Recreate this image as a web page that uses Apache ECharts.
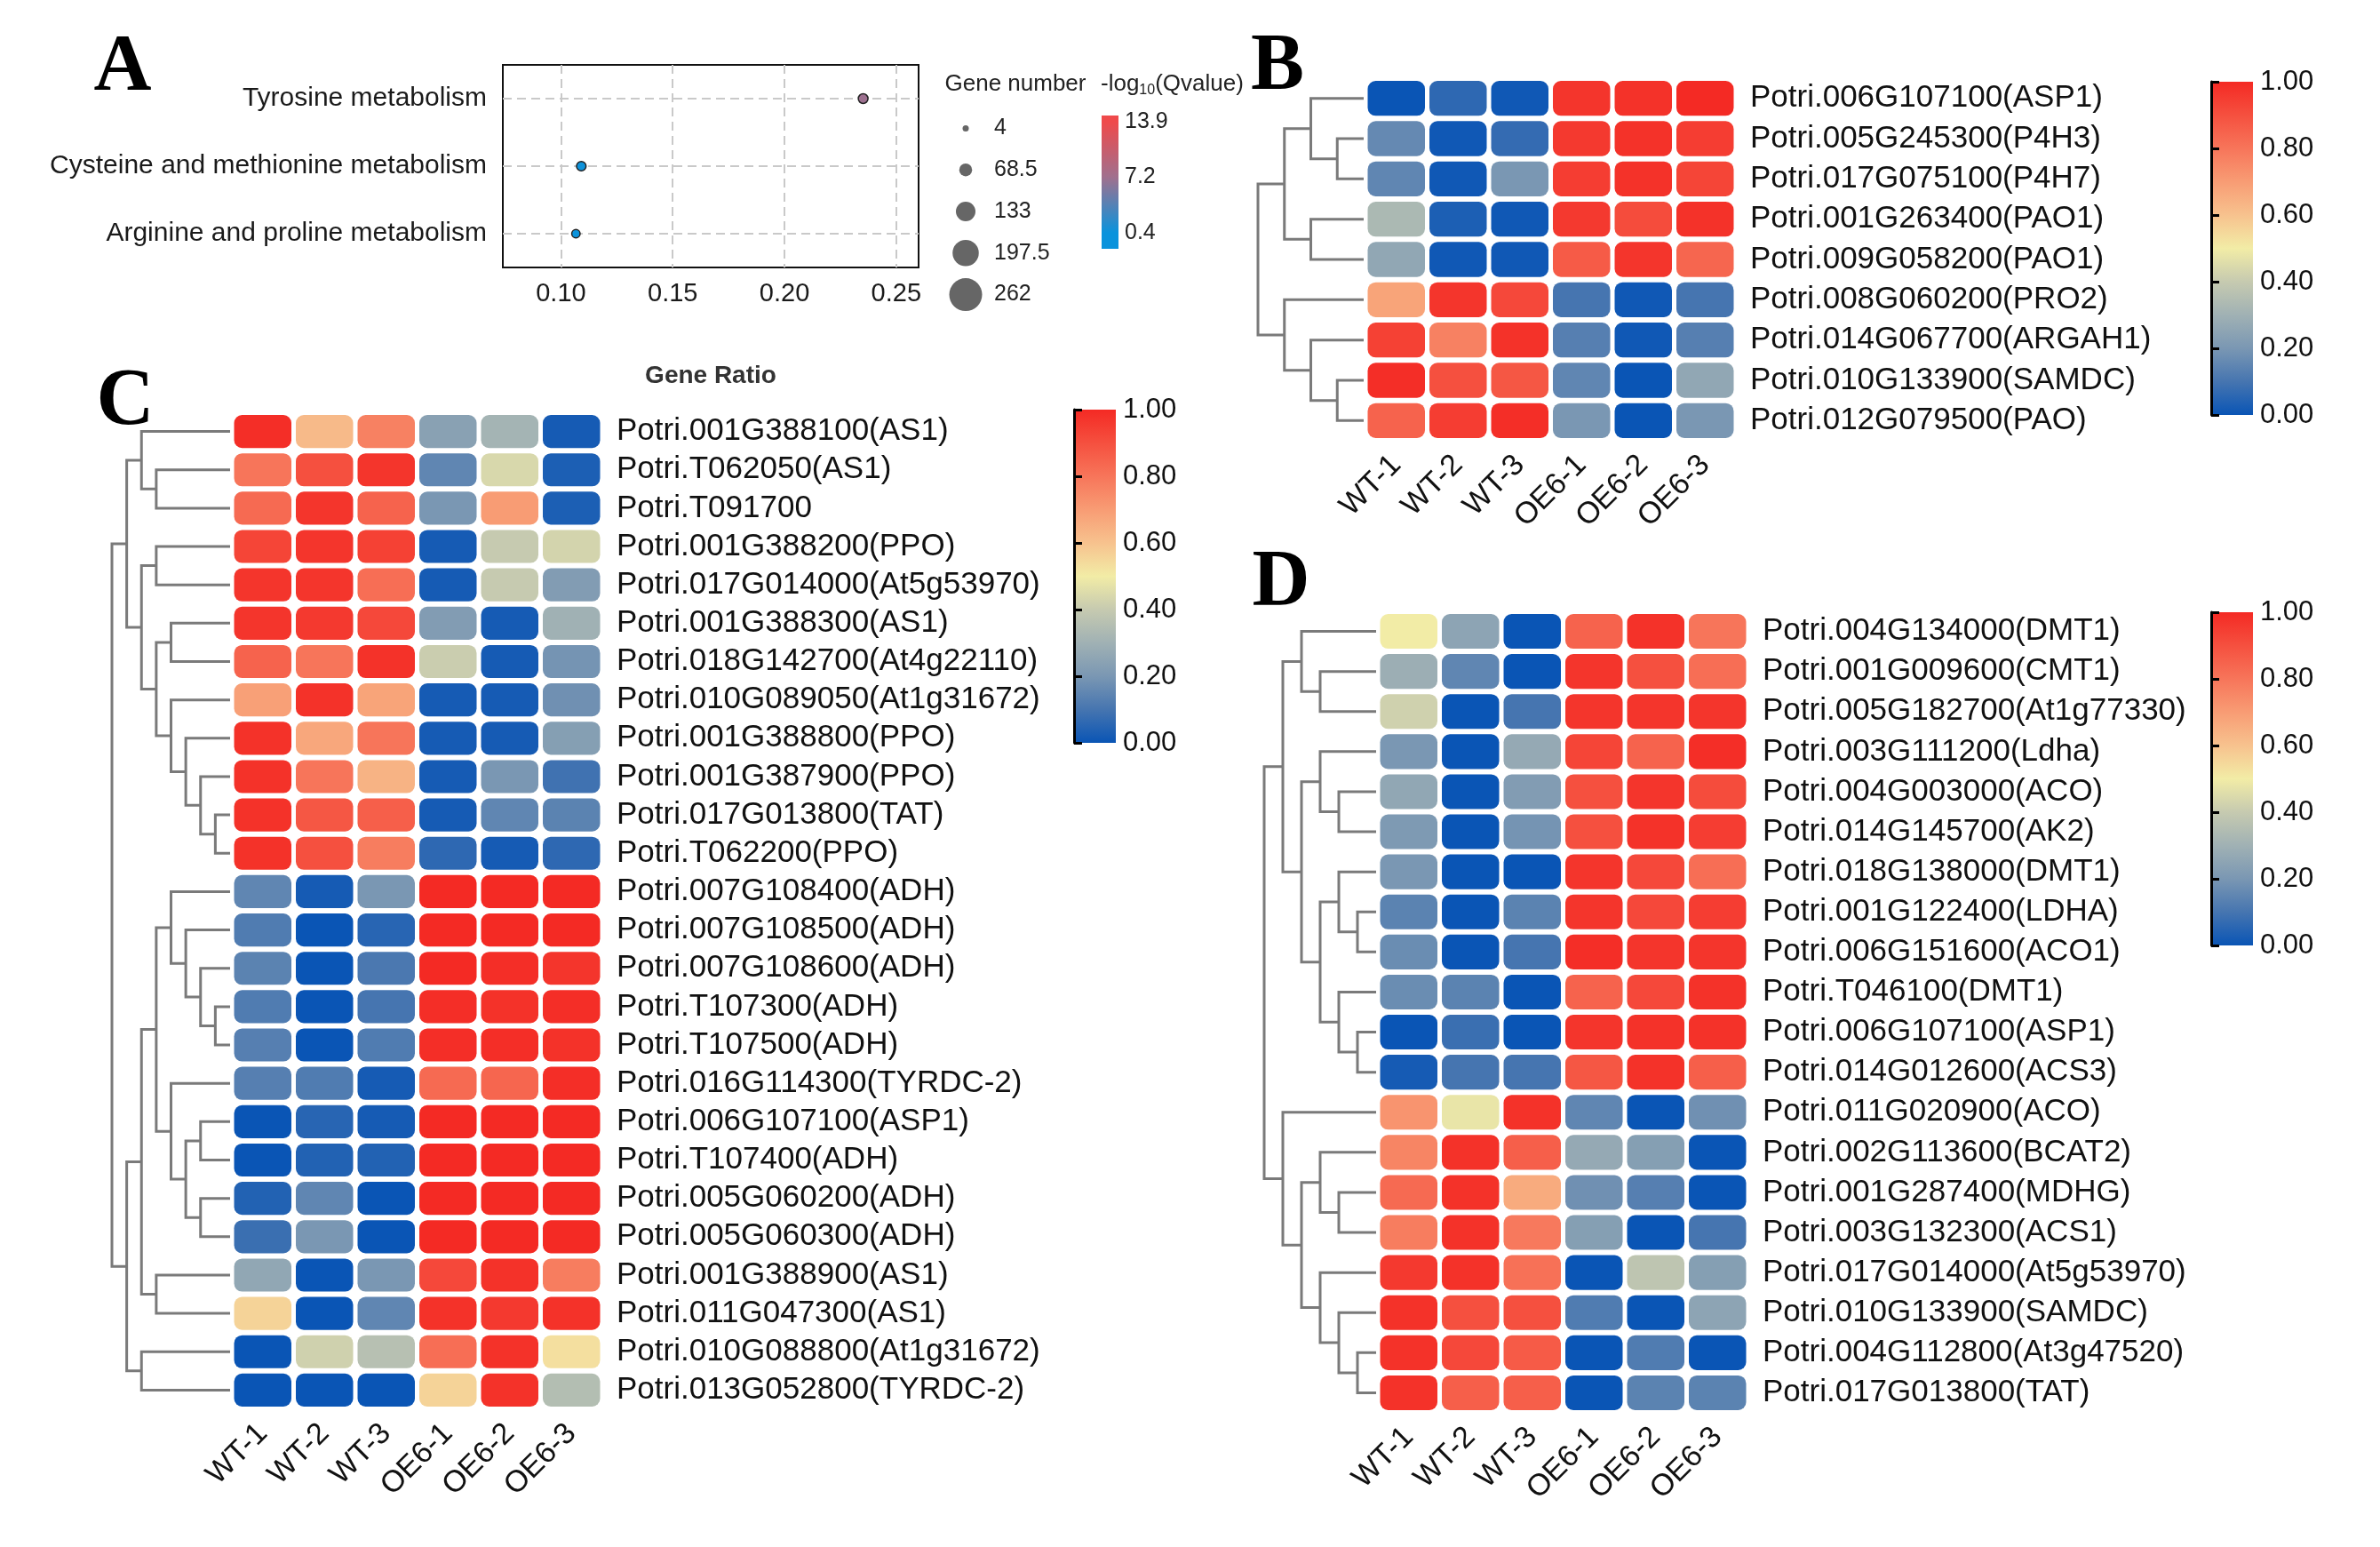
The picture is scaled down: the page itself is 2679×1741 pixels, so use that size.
<!DOCTYPE html>
<html>
<head>
<meta charset="utf-8">
<script src="https://cdn.jsdelivr.net/npm/echarts@6/dist/echarts.min.js"></script>
<style>
  html, body { margin: 0; background: #fff; }
  #chart { width: 2679px; height: 1741px; }
</style>
</head>
<body>
<div id="chart"></div>
<script>
// ---- panel A: KEGG enrichment bubbles ----
const pathways = ['Tyrosine metabolism', 'Cysteine and methionine metabolism', 'Arginine and proline metabolism']
const geneRatio = [0.2352, 0.1091, 0.1067]
const geneCount = [38, 36, 25]
const qScore = [7.0, 0.6, 0.4]
const ratioTicks = [0.10, 0.15, 0.20, 0.25]
const sizeBreaks = [4, 68.5, 133, 197.5, 262]
const qBreaks = [0.4, 7.2, 13.9]

// ---- heatmaps ----
const samples = ['WT-1', 'WT-2', 'WT-3', 'OE6-1', 'OE6-2', 'OE6-3']

const genesB = ['Potri.006G107100(ASP1)', 'Potri.005G245300(P4H3)', 'Potri.017G075100(P4H7)', 'Potri.001G263400(PAO1)',
  'Potri.009G058200(PAO1)', 'Potri.008G060200(PRO2)', 'Potri.014G067700(ARGAH1)', 'Potri.010G133900(SAMDC)', 'Potri.012G079500(PAO)']
const valuesB = [
  [0.00, 0.06, 0.01, 0.97, 0.98, 1.00],
  [0.16, 0.01, 0.07, 0.96, 0.98, 0.95],
  [0.15, 0.01, 0.20, 0.95, 0.98, 0.93],
  [0.33, 0.03, 0.01, 0.96, 0.91, 0.98],
  [0.26, 0.01, 0.01, 0.87, 0.97, 0.84],
  [0.68, 0.97, 0.92, 0.10, 0.01, 0.10],
  [0.94, 0.77, 0.98, 0.13, 0.01, 0.13],
  [0.99, 0.90, 0.88, 0.15, 0.00, 0.26],
  [0.85, 0.95, 0.99, 0.20, 0.00, 0.20],
]
// merges: [childA, childB, height]; leaves are 0..n-1, new clusters get n, n+1, ...
const treeB = [[1, 2, 1], [0, 9, 2], [3, 4, 2], [10, 11, 3], [7, 8, 1], [6, 13, 2], [5, 14, 3], [12, 15, 4]]

const genesC = ['Potri.001G388100(AS1)', 'Potri.T062050(AS1)', 'Potri.T091700', 'Potri.001G388200(PPO)',
  'Potri.017G014000(At5g53970)', 'Potri.001G388300(AS1)', 'Potri.018G142700(At4g22110)', 'Potri.010G089050(At1g31672)',
  'Potri.001G388800(PPO)', 'Potri.001G387900(PPO)', 'Potri.017G013800(TAT)', 'Potri.T062200(PPO)',
  'Potri.007G108400(ADH)', 'Potri.007G108500(ADH)', 'Potri.007G108600(ADH)', 'Potri.T107300(ADH)',
  'Potri.T107500(ADH)', 'Potri.016G114300(TYRDC-2)', 'Potri.006G107100(ASP1)', 'Potri.T107400(ADH)',
  'Potri.005G060200(ADH)', 'Potri.005G060300(ADH)', 'Potri.001G388900(AS1)', 'Potri.011G047300(AS1)',
  'Potri.010G088800(At1g31672)', 'Potri.013G052800(TYRDC-2)']
const valuesC = [
  [0.99, 0.62, 0.77, 0.24, 0.31, 0.02],
  [0.80, 0.90, 0.97, 0.15, 0.44, 0.03],
  [0.83, 0.97, 0.85, 0.20, 0.70, 0.03],
  [0.93, 0.97, 0.94, 0.02, 0.40, 0.43],
  [0.97, 0.97, 0.82, 0.02, 0.40, 0.22],
  [0.97, 0.96, 0.92, 0.22, 0.02, 0.30],
  [0.85, 0.80, 0.98, 0.41, 0.02, 0.19],
  [0.69, 0.98, 0.68, 0.02, 0.02, 0.18],
  [0.98, 0.67, 0.80, 0.02, 0.02, 0.23],
  [0.98, 0.80, 0.64, 0.02, 0.20, 0.09],
  [0.98, 0.88, 0.86, 0.02, 0.15, 0.14],
  [0.98, 0.90, 0.78, 0.06, 0.02, 0.06],
  [0.15, 0.02, 0.20, 1.00, 1.00, 1.00],
  [0.12, 0.00, 0.05, 1.00, 1.00, 1.00],
  [0.14, 0.00, 0.11, 1.00, 0.99, 0.97],
  [0.12, 0.00, 0.10, 0.99, 0.98, 0.99],
  [0.13, 0.00, 0.12, 0.99, 0.99, 0.98],
  [0.13, 0.12, 0.02, 0.83, 0.84, 0.99],
  [0.00, 0.05, 0.02, 1.00, 1.00, 1.00],
  [0.00, 0.04, 0.04, 1.00, 1.00, 1.00],
  [0.04, 0.15, 0.00, 1.00, 1.00, 1.00],
  [0.08, 0.20, 0.00, 1.00, 1.00, 1.00],
  [0.26, 0.00, 0.20, 0.92, 0.98, 0.78],
  [0.56, 0.00, 0.15, 0.98, 0.96, 0.98],
  [0.00, 0.42, 0.36, 0.82, 0.98, 0.53],
  [0.00, 0.00, 0.00, 0.56, 0.98, 0.35],
]
const treeC = [[1, 2, 5], [0, 26, 6], [3, 4, 5], [5, 6, 4], [10, 11, 1], [9, 30, 2], [8, 31, 3], [7, 32, 4],
  [29, 33, 5], [28, 34, 6], [27, 35, 7], [15, 16, 1], [14, 37, 2], [13, 38, 3], [12, 39, 4], [18, 19, 2],
  [20, 21, 2], [41, 42, 3], [17, 43, 4], [40, 44, 5], [22, 23, 5], [45, 46, 6], [24, 25, 6], [47, 48, 7], [36, 49, 8]]

const genesD = ['Potri.004G134000(DMT1)', 'Potri.001G009600(CMT1)', 'Potri.005G182700(At1g77330)', 'Potri.003G111200(Ldha)',
  'Potri.004G003000(ACO)', 'Potri.014G145700(AK2)', 'Potri.018G138000(DMT1)', 'Potri.001G122400(LDHA)',
  'Potri.006G151600(ACO1)', 'Potri.T046100(DMT1)', 'Potri.006G107100(ASP1)', 'Potri.014G012600(ACS3)',
  'Potri.011G020900(ACO)', 'Potri.002G113600(BCAT2)', 'Potri.001G287400(MDHG)', 'Potri.003G132300(ACS1)',
  'Potri.017G014000(At5g53970)', 'Potri.010G133900(SAMDC)', 'Potri.004G112800(At3g47520)', 'Potri.017G013800(TAT)']
const valuesD = [
  [0.50, 0.25, 0.00, 0.85, 0.98, 0.80],
  [0.29, 0.15, 0.00, 0.97, 0.90, 0.82],
  [0.42, 0.00, 0.10, 0.97, 0.97, 0.97],
  [0.20, 0.00, 0.27, 0.93, 0.85, 0.99],
  [0.26, 0.00, 0.22, 0.90, 0.97, 0.91],
  [0.21, 0.00, 0.19, 0.90, 0.98, 0.95],
  [0.20, 0.00, 0.00, 0.97, 0.92, 0.82],
  [0.14, 0.00, 0.14, 0.97, 0.92, 0.95],
  [0.17, 0.00, 0.10, 0.99, 0.97, 0.97],
  [0.17, 0.14, 0.00, 0.85, 0.92, 0.98],
  [0.00, 0.08, 0.00, 0.97, 0.98, 0.98],
  [0.02, 0.10, 0.10, 0.88, 0.98, 0.86],
  [0.72, 0.48, 0.98, 0.15, 0.00, 0.18],
  [0.76, 0.98, 0.86, 0.27, 0.23, 0.00],
  [0.83, 0.98, 0.66, 0.18, 0.13, 0.00],
  [0.78, 0.98, 0.79, 0.23, 0.00, 0.10],
  [0.96, 0.98, 0.81, 0.00, 0.38, 0.23],
  [0.98, 0.90, 0.90, 0.12, 0.00, 0.25],
  [0.98, 0.92, 0.87, 0.00, 0.12, 0.00],
  [0.98, 0.86, 0.86, 0.00, 0.14, 0.14],
]
const treeD = [[1, 2, 3], [0, 20, 4], [4, 5, 2], [3, 22, 3], [7, 8, 1], [6, 24, 2], [10, 11, 1], [9, 26, 2],
  [25, 27, 3], [23, 28, 4], [21, 29, 5], [14, 15, 2], [13, 31, 3], [18, 19, 1], [17, 33, 2], [16, 34, 3],
  [32, 35, 4], [12, 36, 5], [30, 37, 6]]

const heatPalette = ['#0a55b5', '#4675b0', '#7a97b3', '#a0b1b4', '#c6cab0', '#f2eca6',
  '#f7c28e', '#f89c74', '#f7755a', '#f5503f', '#f42a24']
const qPalette = ['#0a93dc', '#a0708e', '#ef4a4b']

const FONT = 'Liberation Sans'
const chart = echarts.init(document.getElementById('chart'))

function sizeFor(n) {
  return 7 + (n - 4) * 30 / 258
}

// turn merge list into bracket segments [hA, yA, h, yB, hB]
function treeSegments(n, merges) {
  const nodes = []
  for (let i = 0; i < n; i++) nodes.push({ y: i, h: 0 })
  return merges.map(([a, b, h]) => {
    const A = nodes[a]
    const B = nodes[b]
    nodes.push({ y: (A.y + B.y) / 2, h })
    return [A.h, A.y, h, B.y, B.h]
  })
}

function renderBranch(params, api) {
  const p1 = api.coord([api.value(0), api.value(1)])
  const p2 = api.coord([api.value(2), api.value(1)])
  const p3 = api.coord([api.value(2), api.value(3)])
  const p4 = api.coord([api.value(4), api.value(3)])
  return {
    type: 'polyline',
    shape: { points: [p1, p2, p3, p4] },
    style: { stroke: '#7a7a7a', lineWidth: 3, fill: null },
  }
}

function renderCell(params, api) {
  const c = api.coord([api.value(0), api.value(1)])
  const s = api.size([1, 1])
  const w = s[0] - 5
  const h = s[1] - 6
  return {
    type: 'rect',
    shape: { x: c[0] - w / 2, y: c[1] - h / 2, width: w, height: h, r: 9 },
    style: { fill: api.visual('color') },
  }
}

function cells(values) {
  const out = []
  values.forEach((row, r) => row.forEach((v, c) => out.push([c, r, v])))
  return out
}

const heatGradient = new echarts.graphic.LinearGradient(0, 1, 0, 0,
  heatPalette.map((c, i) => ({ offset: i / (heatPalette.length - 1), color: c })))
const qMin = -1.54
const qMax = 14.66
const qOff = v => (v - qMin) / (qMax - qMin)
const qGradient = new echarts.graphic.LinearGradient(0, 1, 0, 0, [
  { offset: 0, color: qPalette[0] },
  { offset: qOff(qBreaks[0]), color: qPalette[0] },
  { offset: qOff((qBreaks[0] + qBreaks[2]) / 2), color: qPalette[1] },
  { offset: qOff(qBreaks[2]), color: qPalette[2] },
  { offset: 1, color: qPalette[2] },
])

const grids = [
  { left: 566, top: 73, width: 468, height: 228, show: true, borderColor: '#111', borderWidth: 2 },
  { left: 1077, top: 121, width: 20, height: 234 },
  { left: 1240, top: 130, width: 19, height: 150, show: true, borderWidth: 0, backgroundColor: qGradient },
]
const xAxes = [
  {
    gridIndex: 0, type: 'value', min: 0.074, max: 0.26,
    axisLine: { show: false }, axisTick: { show: false }, splitLine: { show: false },
    axisLabel: { customValues: ratioTicks, formatter: v => v.toFixed(2), fontSize: 29, margin: 15, color: '#1a1a1a', fontFamily: FONT },
    name: 'Gene Ratio', nameLocation: 'middle', nameGap: 108,
    nameTextStyle: { fontWeight: 'bold', fontSize: 28, color: '#333', fontFamily: FONT },
  },
  { gridIndex: 1, type: 'value', min: -1, max: 1, show: false },
  { gridIndex: 2, type: 'value', min: 0, max: 1, show: false },
]
const yAxes = [
  {
    gridIndex: 0, type: 'category', data: pathways, inverse: true,
    axisLine: { show: false }, axisTick: { show: false },
    axisLabel: { fontSize: 30, margin: 18, color: '#1a1a1a', fontFamily: FONT },
  },
  {
    gridIndex: 1, type: 'category', data: sizeBreaks.map(String), inverse: true, position: 'right',
    axisLine: { show: false }, axisTick: { show: false },
    axisLabel: { fontSize: 25, margin: 22, color: '#222', fontFamily: FONT, padding: [0, 0, 16, 0] },
  },
  {
    gridIndex: 2, type: 'value', min: qMin, max: qMax, position: 'right',
    axisLine: { show: false }, splitLine: { show: false },
    axisTick: { show: true, inside: true, length: 4, customValues: qBreaks, lineStyle: { color: '#fff', width: 1 } },
    axisLabel: { customValues: qBreaks, formatter: v => String(v), fontSize: 25, margin: 7, color: '#222', fontFamily: FONT },
  },
]
const series = [
  {
    type: 'scatter', xAxisIndex: 0, yAxisIndex: 0, z: 10,
    data: pathways.map((p, i) => [geneRatio[i], i, geneCount[i], qScore[i]]),
    symbolSize: d => sizeFor(d[2]),
    itemStyle: { borderColor: '#222', borderWidth: 1.5, opacity: 1 },
    markLine: {
      silent: true, symbol: 'none', label: { show: false },
      lineStyle: { type: [10, 6], color: '#c9c9c9', width: 2 },
      data: ratioTicks.map(v => ({ xAxis: v })).concat(pathways.map((p, i) => ({ yAxis: i }))),
    },
  },
  {
    type: 'scatter', xAxisIndex: 1, yAxisIndex: 1,
    data: sizeBreaks.map((v, i) => [0, i, v]),
    symbolSize: d => sizeFor(d[2]),
    itemStyle: { color: '#666', opacity: 1 },
  },
]

const panels = [
  { genes: genesB, values: valuesB, tree: treeB, top: 88, height: 408, treeLeft: 1416, heatLeft: 1537, barLeft: 2489, barTop: 92 },
  { genes: genesC, values: valuesC, tree: treeC, top: 464, height: 1122, treeLeft: 126, heatLeft: 261, barLeft: 1209, barTop: 461 },
  { genes: genesD, values: valuesD, tree: treeD, top: 688, height: 902, treeLeft: 1423, heatLeft: 1551, barLeft: 2489, barTop: 689 },
]
const heatSeries = []

panels.forEach(p => {
  const n = p.genes.length
  const topH = p.tree[p.tree.length - 1][2]
  const g = grids.length
  // dendrogram
  grids.push({ left: p.treeLeft, top: p.top, width: p.heatLeft - 2 - p.treeLeft, height: p.height })
  xAxes.push({ gridIndex: g, type: 'value', min: 0, max: topH, inverse: true, show: false })
  yAxes.push({ gridIndex: g, type: 'value', min: -0.5, max: n - 0.5, inverse: true, show: false })
  series.push({
    type: 'custom', xAxisIndex: g, yAxisIndex: g, renderItem: renderBranch,
    encode: { x: [0, 2, 4], y: [1, 3] }, data: treeSegments(n, p.tree), silent: true,
  })
  // heat cells
  grids.push({ left: p.heatLeft, top: p.top, width: 417, height: p.height })
  xAxes.push({
    gridIndex: g + 1, type: 'category', data: samples,
    axisLine: { show: false }, axisTick: { show: false },
    axisLabel: { rotate: 45, interval: 0, fontSize: 34, margin: 22, color: '#111', fontFamily: FONT },
  })
  yAxes.push({
    gridIndex: g + 1, type: 'category', data: p.genes, inverse: true, position: 'right',
    axisLine: { show: false }, axisTick: { show: false },
    axisLabel: { interval: 0, fontSize: 35, margin: 16, color: '#111', fontFamily: FONT },
  })
  heatSeries.push(series.length)
  series.push({
    type: 'custom', xAxisIndex: g + 1, yAxisIndex: g + 1, renderItem: renderCell,
    encode: { x: 0, y: 1 }, data: cells(p.values),
  })
  // colour scale
  grids.push({ left: p.barLeft, top: p.barTop, width: 47, height: 375, show: true, borderWidth: 0, backgroundColor: heatGradient })
  xAxes.push({ gridIndex: g + 2, type: 'value', min: 0, max: 1, show: false })
  yAxes.push({
    gridIndex: g + 2, type: 'value', min: 0, max: 1, interval: 0.2, position: 'right',
    axisLine: { show: true, lineStyle: { color: '#000', width: 3 } },
    axisTick: { show: true, length: 9, lineStyle: { color: '#000', width: 3 } },
    splitLine: { show: false },
    axisLabel: { formatter: v => v.toFixed(2), fontSize: 31, margin: 8, color: '#111', fontFamily: FONT },
  })
})

const letter = (t, x, y) => ({
  type: 'text', x, y,
  style: { text: t, fontFamily: 'Liberation Serif', fontWeight: 'bold', fontSize: 90, fill: '#000', align: 'center', verticalAlign: 'middle' },
})

chart.setOption({
  animation: false,
  backgroundColor: '#fff',
  textStyle: { fontFamily: FONT },
  grid: grids,
  xAxis: xAxes,
  yAxis: yAxes,
  visualMap: [
    { type: 'continuous', show: false, seriesIndex: [0], dimension: 3, min: qBreaks[0], max: qBreaks[2], inRange: { color: qPalette } },
    { type: 'continuous', show: false, seriesIndex: heatSeries, dimension: 2, min: 0, max: 1, inRange: { color: heatPalette } },
  ],
  graphic: [
    letter('A', 138, 78),
    letter('B', 1438, 77),
    letter('C', 141, 454),
    letter('D', 1442, 658),
    {
      type: 'text', x: 1143, y: 95,
      style: { text: 'Gene number', fontFamily: FONT, fontSize: 26, fill: '#222', align: 'center', verticalAlign: 'middle' },
    },
    {
      type: 'text', x: 1239, y: 95,
      style: {
        text: '-log{s|10}(Qvalue)', fontFamily: FONT, fontSize: 26, fill: '#222', align: 'left', verticalAlign: 'middle',
        rich: { s: { fontSize: 16, fontFamily: FONT, fill: '#222', padding: [14, 0, 0, 0] } },
      },
    },
  ],
  series,
})
</script>
</body>
</html>
